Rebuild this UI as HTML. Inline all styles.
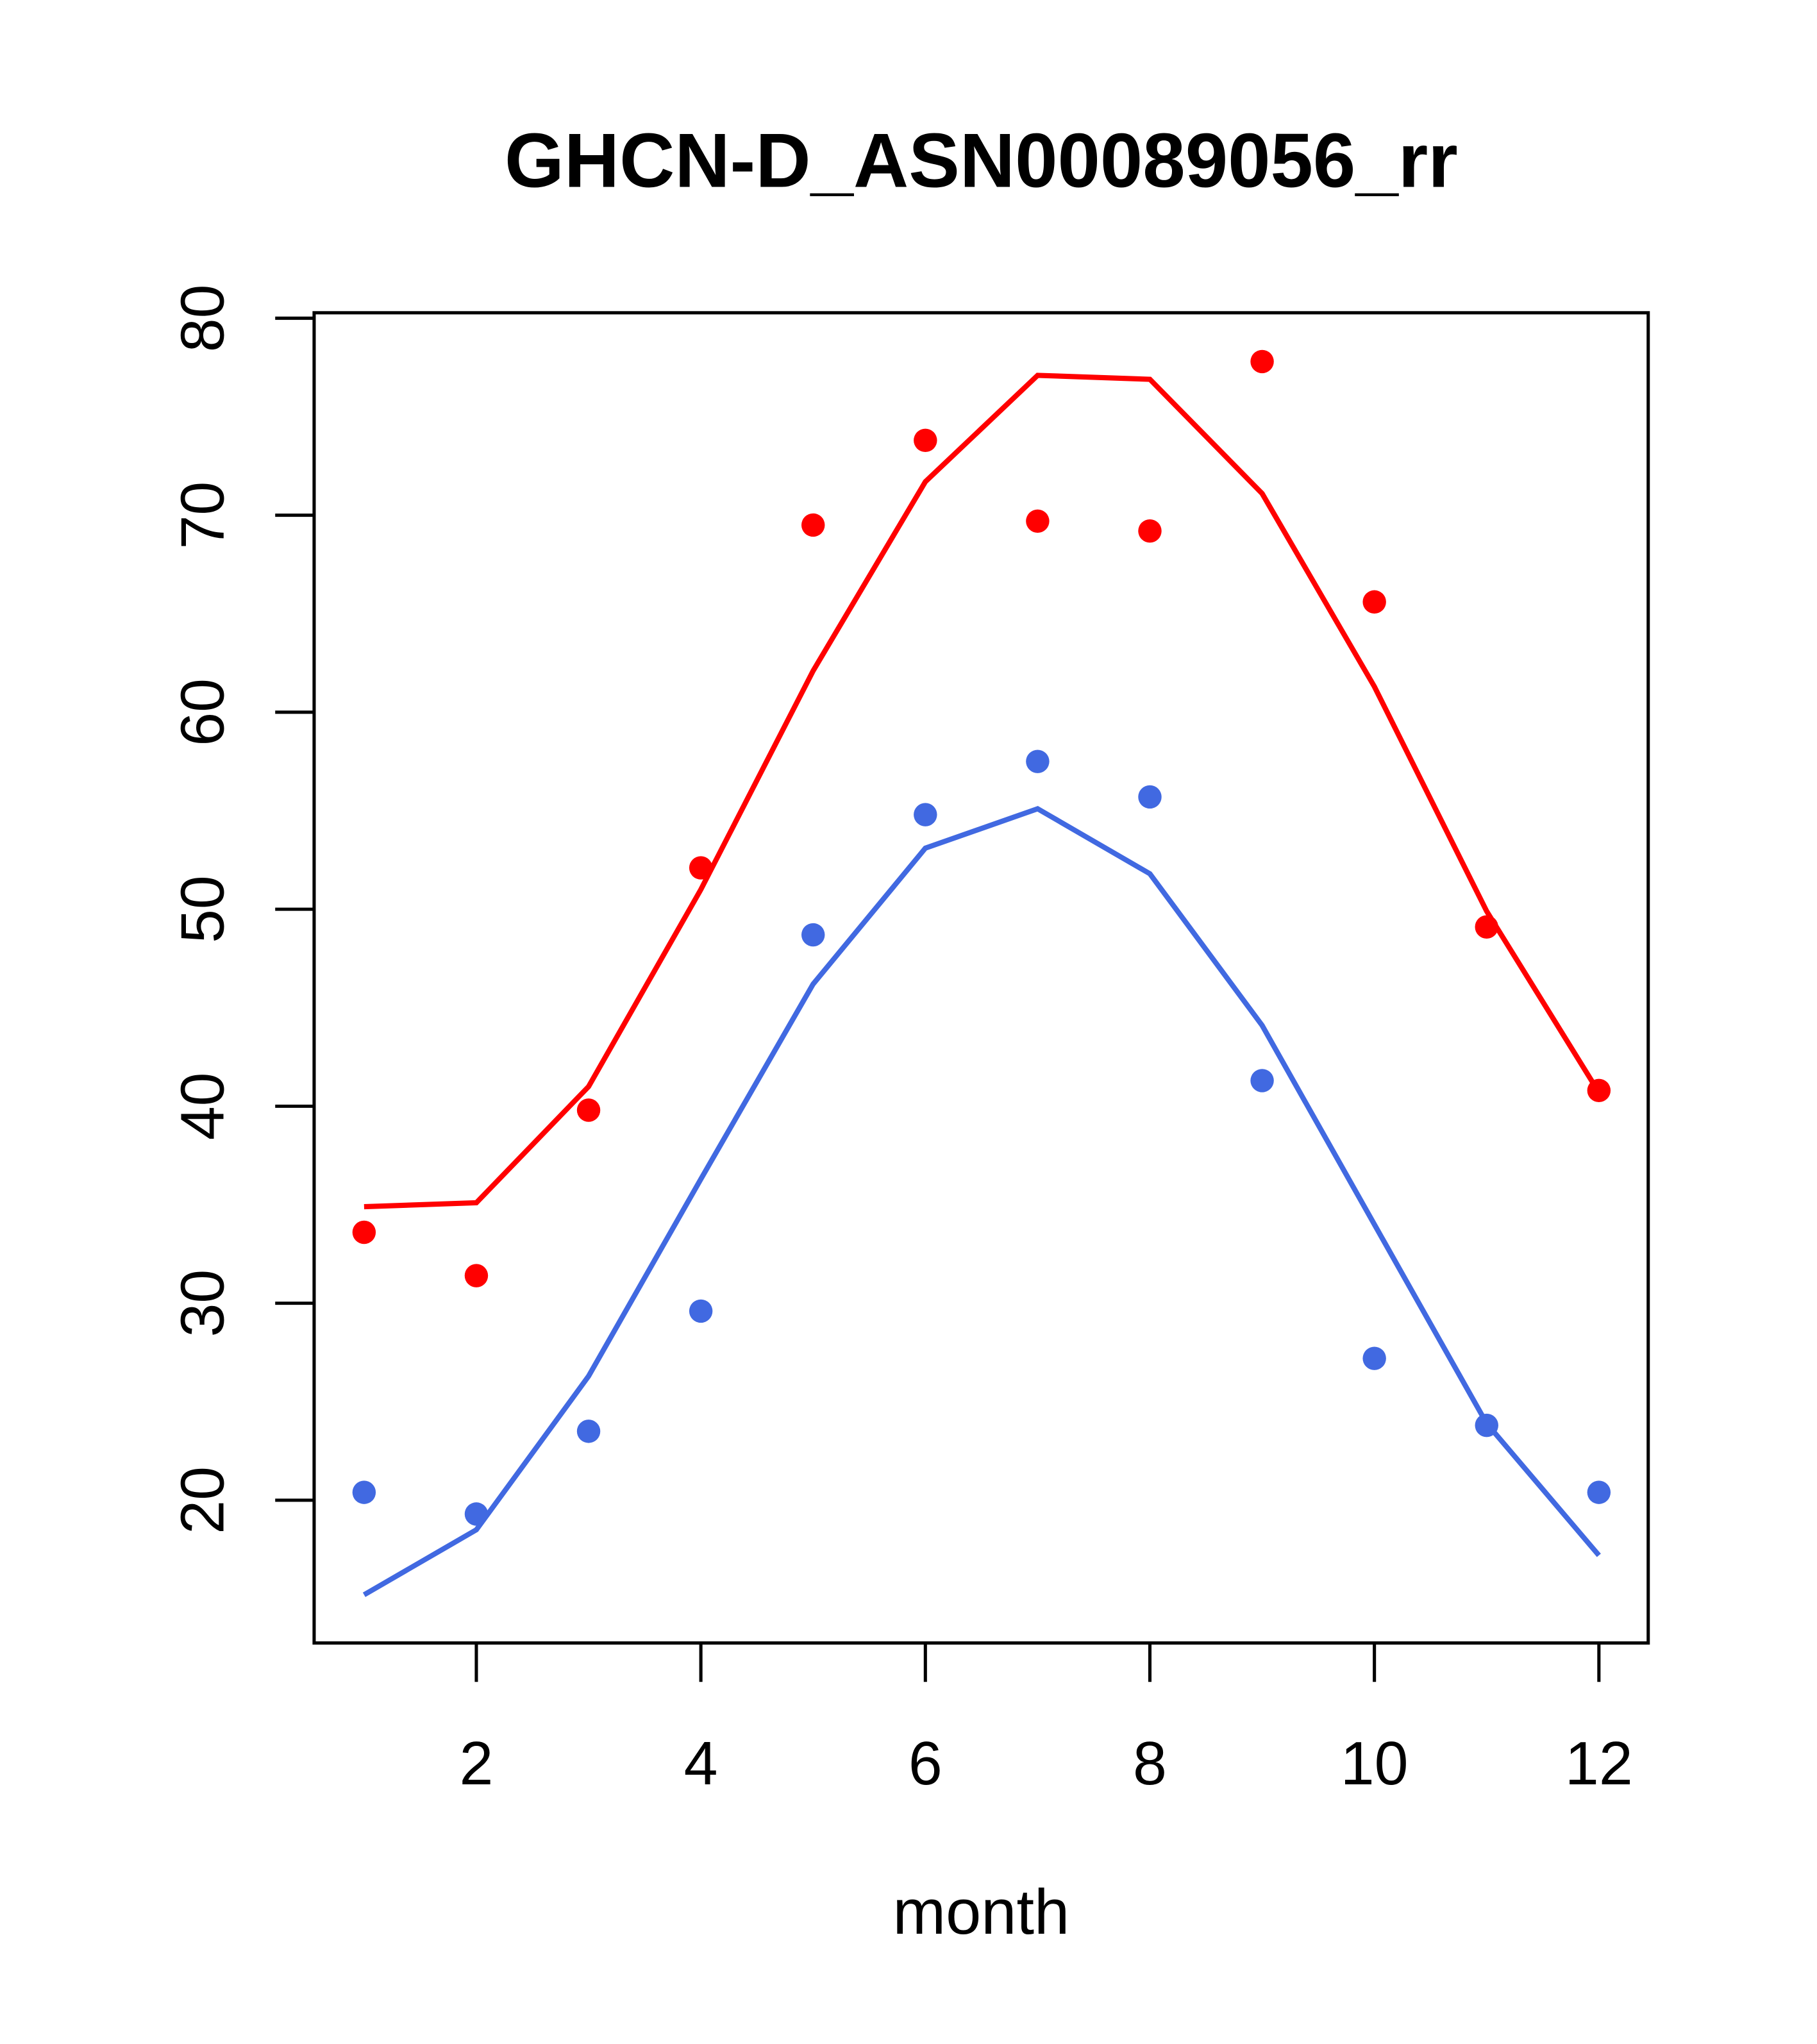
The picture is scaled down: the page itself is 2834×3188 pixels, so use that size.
<!DOCTYPE html>
<html><head><meta charset="utf-8"><style>html,body{margin:0;padding:0;background:#fff}svg{display:block}</style></head>
<body>
<svg width="2834" height="3188" viewBox="0 0 1400 1575" xmlns="http://www.w3.org/2000/svg" font-family="Liberation Sans, sans-serif">
<rect width="1400" height="1575" fill="#fff"/>
<text x="756" y="144" text-anchor="middle" font-size="59" font-weight="bold">GHCN-D_ASN00089056_rr</text>
<rect x="242" y="241" width="1028" height="1025" fill="none" stroke="#000" stroke-width="2.5"/>
<g id="xaxis"></g>
<g id="yaxis"></g>
<text x="756" y="1490" text-anchor="middle" font-size="49">month</text>
<g id="series"></g>
</svg>
<script>
const months=[1,2,3,4,5,6,7,8,9,10,11,12];
const redPoints=[33.6,31.4,39.8,52.1,69.5,73.8,69.7,69.2,77.8,65.6,49.1,40.8];
const redLine=[34.9,35.1,41.0,51.0,62.1,71.7,77.1,76.9,71.1,61.3,49.9,40.7];
const bluePoints=[20.4,19.3,23.5,29.6,48.7,54.8,57.5,55.7,41.3,27.2,23.8,20.4];
const blueLine=[15.2,18.5,26.3,36.3,46.2,53.1,55.1,51.8,44.1,34.0,23.9,17.2];
const xTicks=[2,4,6,8,10,12];
const yTicks=[20,30,40,50,60,70,80];
const NS="http://www.w3.org/2000/svg";
function xs(m){return 367+(m-2)*86.5;}
function ys(v){return 1156-(v-20)*15.18;}
function mk(t,a,p){const e=document.createElementNS(NS,t);for(const k in a)e.setAttribute(k,a[k]);p.appendChild(e);return e;}
const xa=document.getElementById('xaxis'),ya=document.getElementById('yaxis'),sr=document.getElementById('series');
xTicks.forEach(t=>{const l=mk('line',{x1:xs(t),x2:xs(t),y1:1266,y2:1296,stroke:'#000','stroke-width':2.5},xa);


const tx=mk('text',{x:xs(t),y:1375,'text-anchor':'middle','font-size':47},xa);tx.textContent=t;

});
yTicks.forEach(t=>{const l=mk('line',{x1:212,x2:242,y1:ys(t),y2:ys(t),stroke:'#000','stroke-width':2.5},ya);


const tx=mk('text',{x:0,y:0,'text-anchor':'middle','font-size':47,transform:`translate(172,${ys(t)}) rotate(-90)`},ya);tx.textContent=t;

});
function series(pts,line,col,name){
const pl=mk('polyline',{points:line.map((v,i)=>xs(months[i])+','+ys(v)).join(' '),fill:'none',stroke:col,'stroke-width':4},sr);


pts.forEach((v,i)=>{const c=mk('circle',{cx:xs(months[i]),cy:ys(v),r:9,fill:col},sr);

});}
series(redPoints,redLine,'#ff0000','red-series');
series(bluePoints,blueLine,'#4169e1','blue-series');
</script>
</body></html>
